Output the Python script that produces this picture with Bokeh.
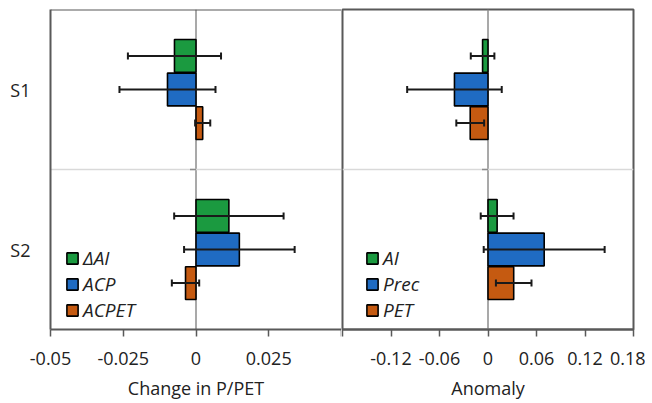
import numpy as np
from bokeh.plotting import figure
from bokeh.models import (ColumnDataSource, FactorRange, Range1d, FixedTicker,
                          CustomJSTickFormatter, Span, Legend, LegendItem)
from bokeh.transform import dodge
from bokeh.layouts import row
from bokeh.embed import file_html
from bokeh.resources import INLINE

# ---------------- data ----------------
categories = ["S1", "S2"]

# left panel: change in P/PET
d_ai = [-0.0074, 0.0113]
d_ai_err = [0.0160, 0.0188]
d_cp = [-0.0098, 0.0149]
d_cp_err = [0.0165, 0.0190]
d_cpet = [0.0023, -0.0036]
d_cpet_err = [0.0026, 0.0047]

# right panel: anomaly
a_ai = [-0.0067, 0.0113]
a_ai_err = [0.0146, 0.0203]
a_prec = [-0.0415, 0.0695]
a_prec_err = [0.0585, 0.0748]
a_pet = [-0.0220, 0.0318]
a_pet_err = [0.0172, 0.0220]

left_labels = ["ΔAI", "ACP", "ACPET"]
right_labels = ["AI", "Prec", "PET"]
left_ticks = [-0.05, -0.025, 0, 0.025, 0.05]
right_ticks = [-0.18, -0.12, -0.06, 0, 0.06, 0.12, 0.18]
left_xlabel = "Change in P/PET"
right_xlabel = "Anomaly"

colors = ["#1b9a40", "#1f6bc2", "#c55a11"]
offsets = [0.21, 0.0, -0.21]
BAR_H = 0.205

FONT = "Open Sans"
TXT = "#222222"
BOX = "#595959"
ZERO = "#8c8c8c"

left_fmt = """
const t = Math.round(tick*1000)/1000;
if (t > 0.049) return "";
return t === 0 ? "0" : String(t);
"""
right_fmt = """
const t = Math.round(tick*100)/100;
if (t < -0.17) return "";
return t === 0 ? "0" : String(t);
"""


def make_panel(xr, ticks, fmt, series, labels, xlabel, fw, mbl, mbr,
               show_y, legend_loc):
    p = figure(frame_width=fw, frame_height=320, x_range=Range1d(*xr),
               y_range=FactorRange(factors=["S2", "S1"]),
               output_backend="svg", toolbar_location=None,
               min_border_left=mbl, min_border_right=mbr,
               min_border_top=9, min_border_bottom=20)
    p.background_fill_color = "white"
    p.border_fill_color = "white"
    p.xgrid.visible = False
    p.ygrid.visible = False

    # zero line and category boundary
    p.add_layout(Span(location=0, dimension="height", line_color=ZERO,
                      line_width=1.5, level="underlay"))
    p.add_layout(Span(location=1.0, dimension="width", line_color="#d9d9d9",
                      line_width=1.5, level="underlay"))
    p.ray(x=[0], y=[1.0], length=6, length_units="screen", angle=np.pi,
          line_color=ZERO, line_width=1.5)

    items = []
    for (vals, errs), col, off, lab in zip(series, colors, offsets, labels):
        src = ColumnDataSource(dict(
            cat=categories, val=vals,
            lo=[v - e for v, e in zip(vals, errs)],
            hi=[v + e for v, e in zip(vals, errs)]))
        yy = dodge("cat", off, range=p.y_range)
        r = p.hbar(y=yy, left=0, right="val", height=BAR_H, source=src,
                   fill_color=col, line_color="black", line_width=1.6)
        p.segment(x0="lo", x1="hi", y0=yy, y1=yy, source=src,
                  line_color="#1a1a1a", line_width=2)
        p.scatter(x="lo", y=yy, source=src, marker="dash", angle=np.pi / 2,
                  size=7, line_color="#1a1a1a", line_width=2)
        p.scatter(x="hi", y=yy, source=src, marker="dash", angle=np.pi / 2,
                  size=7, line_color="#1a1a1a", line_width=2)
        items.append(LegendItem(label=lab, renderers=[r]))

    leg = Legend(items=items, location=legend_loc, orientation="vertical",
                 background_fill_alpha=0, border_line_color=None,
                 padding=0, margin=0, spacing=0, glyph_width=14,
                 glyph_height=14, label_standoff=4, label_height=20,
                 label_text_font=FONT, label_text_font_size="19px",
                 label_text_line_height=0.9,
                 label_text_font_style="italic", label_text_color=TXT)
    p.add_layout(leg)

    xa = p.xaxis[0]
    xa.ticker = FixedTicker(ticks=ticks)
    xa.formatter = CustomJSTickFormatter(code=fmt)
    xa.axis_label = xlabel
    xa.axis_label_text_font = FONT
    xa.axis_label_text_font_size = "18px"
    xa.axis_label_text_font_style = "normal"
    xa.axis_label_text_color = TXT
    xa.axis_label_text_line_height = 0.8
    xa.axis_label_standoff = 8
    xa.major_label_text_font = FONT
    xa.major_label_text_font_size = "18px"
    xa.major_label_text_color = TXT
    xa.major_label_text_line_height = 0.8
    xa.major_label_standoff = 15
    xa.major_tick_out = 7
    xa.major_tick_in = 0
    xa.minor_tick_line_color = None
    xa.major_tick_line_color = BOX
    xa.major_tick_line_width = 1.5
    xa.axis_line_color = BOX
    xa.axis_line_width = 2

    ya = p.yaxis[0]
    if show_y:
        ya.major_tick_out = 0
        ya.major_tick_in = 0
        ya.minor_tick_line_color = None
        ya.major_tick_line_color = None
        ya.axis_line_color = BOX
        ya.axis_line_width = 2
        ya.major_label_text_font = FONT
        ya.major_label_text_font_size = "18px"
        ya.major_label_text_color = TXT
        ya.major_label_standoff = 20
        p.outline_line_color = None
        p.add_layout(Span(location=2.0, dimension="width", line_color=BOX,
                          line_width=2))
    else:
        ya.visible = False
        p.outline_line_color = BOX
        p.outline_line_width = 2
        p.outline_line_alpha = 1.0
    return p


left = make_panel((-0.05, 0.05), left_ticks, left_fmt,
                  [(d_ai, d_ai_err), (d_cp, d_cp_err), (d_cpet, d_cpet_err)],
                  left_labels, left_xlabel, 291, 50, 0, True, (15, 6))
right = make_panel((-0.18, 0.18), right_ticks, right_fmt,
                   [(a_ai, a_ai_err), (a_prec, a_prec_err), (a_pet, a_pet_err)],
                   right_labels, right_xlabel, 291, 1, 12, False, (23, 6))

layout = row(left, right)
open("out.html", "w").write(file_html(layout, INLINE))
